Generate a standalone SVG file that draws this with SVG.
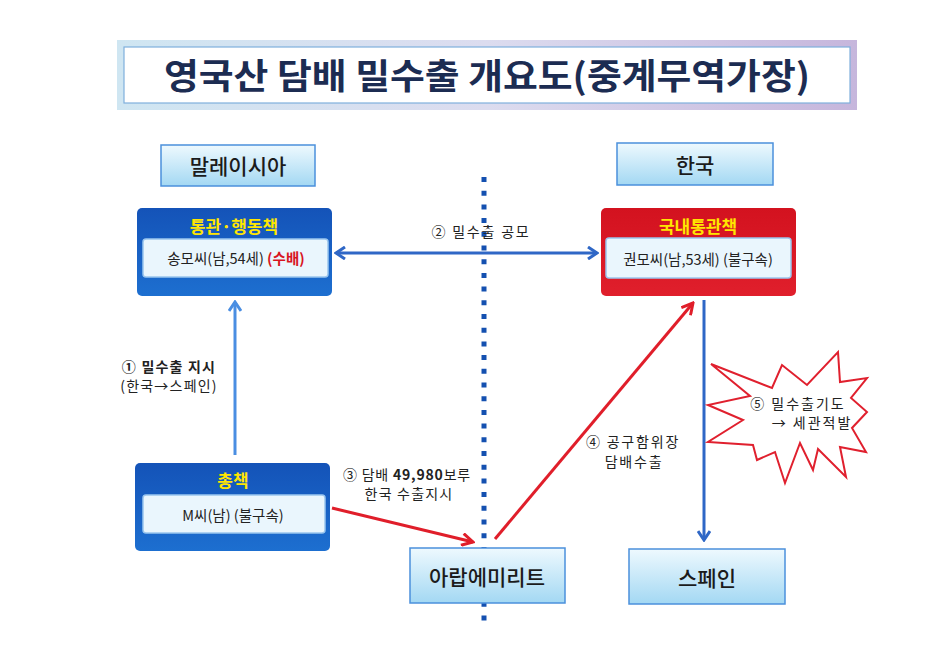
<svg xmlns="http://www.w3.org/2000/svg" width="943" height="658" viewBox="0 0 943 658">
<defs>
<linearGradient id="banner" x1="0" y1="0" x2="1" y2="0">
<stop offset="0" stop-color="#cfe6f2"/><stop offset="0.5" stop-color="#dcdcef"/><stop offset="1" stop-color="#c6b6dc"/>
</linearGradient>
<linearGradient id="sky" x1="0" y1="0" x2="0" y2="1">
<stop offset="0" stop-color="#eef9fe"/><stop offset="1" stop-color="#a3d8f3"/>
</linearGradient>
<linearGradient id="blueBox" x1="0" y1="0" x2="0" y2="1">
<stop offset="0" stop-color="#1453b8"/><stop offset="1" stop-color="#1d6fd0"/>
</linearGradient>
<linearGradient id="redBox" x1="0" y1="0" x2="0" y2="1">
<stop offset="0" stop-color="#d3121f"/><stop offset="1" stop-color="#e01f2c"/>
</linearGradient>
<marker id="hb" viewBox="0 0 12 14" refX="10" refY="7" markerWidth="12" markerHeight="14" markerUnits="userSpaceOnUse" orient="auto-start-reverse">
<path d="M1,1 L10,7 L1,13" fill="none" stroke="#2f67c6" stroke-width="3"/>
</marker>
<marker id="hb2" viewBox="0 0 12 14" refX="10" refY="7" markerWidth="12" markerHeight="14" markerUnits="userSpaceOnUse" orient="auto">
<path d="M1,1 L10,7 L1,13" fill="none" stroke="#4a8ee2" stroke-width="3"/>
</marker>
<marker id="hr" viewBox="0 0 14 14" refX="12" refY="7" markerWidth="14" markerHeight="14" markerUnits="userSpaceOnUse" orient="auto">
<path d="M1,1 L12,7 L1,13" fill="none" stroke="#e01e2a" stroke-width="3"/>
</marker>
</defs>
<style>
text{font-family:"Noto Sans CJK KR","Noto Sans",sans-serif;text-anchor:middle}
.country{font-size:21px;fill:#1b1b1b;font-weight:500}
.sky{fill:url(#sky);stroke:#4b90dc;stroke-width:1.5}
.inner{fill:#eaf6fd;stroke:#9bc6ee;stroke-width:1.5}
.ttl{font-size:17px;font-weight:bold;fill:#ffe600}
.person{font-size:14.5px;fill:#222}
.lbl{font-size:14px;fill:#222}
</style>

<g id="title">
<rect x="117" y="40" width="740" height="70" fill="url(#banner)"/>
<rect x="124" y="47" width="726" height="56" fill="#ffffff" stroke="#7fb0dc" stroke-width="1.2"/>
<text x="487" y="89" font-size="35" font-weight="bold" fill="#1c2c52" textLength="646" lengthAdjust="spacingAndGlyphs">영국산 담배 밀수출 개요도(중계무역가장)</text>
</g>

<g id="divider">
<line x1="484" y1="177" x2="484" y2="624" stroke="#1450b0" stroke-width="5" stroke-dasharray="5 8.7"/>
</g>

<g id="malaysia">
<rect class="sky" x="161" y="145" width="154" height="41"/>
<text class="country" x="238" y="174">말레이시아</text>
</g>
<g id="korea">
<rect class="sky" x="617" y="143" width="156" height="42"/>
<text class="country" x="695" y="173">한국</text>
</g>

<g id="customs-agent">
<rect x="137" y="208" width="195" height="88" rx="5" fill="url(#blueBox)"/>
<text class="ttl" x="234" y="233">통관·행동책</text>
<rect class="inner" x="143" y="239" width="185" height="38" rx="3"/>
<text class="person" x="236" y="264">송모씨(남,54세) <tspan fill="#d8141f" font-weight="bold">(수배)</tspan></text>
</g>

<g id="domestic-agent">
<rect x="601" y="208" width="195" height="88" rx="5" fill="url(#redBox)"/>
<text class="ttl" x="698" y="233">국내통관책</text>
<rect class="inner" x="606" y="238" width="185" height="40" rx="3"/>
<text class="person" x="698" y="265">권모씨(남,53세) (불구속)</text>
</g>

<g id="boss">
<rect x="135" y="463" width="195" height="88" rx="5" fill="url(#blueBox)"/>
<text class="ttl" x="233" y="487">총책</text>
<rect class="inner" x="143" y="495" width="182" height="38" rx="3"/>
<text class="person" x="233" y="521">M씨(남) (불구속)</text>
</g>

<g id="uae">
<rect class="sky" x="410" y="548" width="155" height="55"/>
<text class="country" x="487" y="585" font-size="22">아랍에미리트</text>
</g>
<g id="spain">
<rect class="sky" x="629" y="549" width="156" height="55"/>
<text class="country" x="707" y="586" font-size="22">스페인</text>
</g>

<g id="connectors">
<line x1="336" y1="253" x2="597" y2="253" stroke="#2f67c6" stroke-width="3" marker-start="url(#hb)" marker-end="url(#hb)"/>
<line x1="235" y1="455" x2="235" y2="302" stroke="#4a8ee2" stroke-width="3" marker-end="url(#hb2)"/>
<line x1="704" y1="300" x2="704" y2="540" stroke="#2f67c6" stroke-width="3" marker-end="url(#hb)"/>
<line x1="332" y1="508" x2="473" y2="542" stroke="#e01e2a" stroke-width="3" marker-end="url(#hr)"/>
<line x1="495" y1="539" x2="693" y2="303" stroke="#e01e2a" stroke-width="3" marker-end="url(#hr)"/>
</g>

<g id="labels">
<text class="lbl" x="481" y="237" letter-spacing="1.8">② 밀수출 공모</text>
<text class="lbl" x="169" y="372" font-weight="bold" letter-spacing="1.2">① 밀수출 지시</text>
<text class="lbl" x="169" y="391" fill="#444" letter-spacing="1.2">(한국→스페인)</text>
<text class="lbl" x="407" y="480" letter-spacing="0.8">③ 담배 <tspan font-weight="bold">49,980</tspan>보루</text>
<text class="lbl" x="409" y="499" letter-spacing="1.2">한국 수출지시</text>
<text class="lbl" x="633" y="447" letter-spacing="1.8">④ 공구함위장</text>
<text class="lbl" x="634" y="467" letter-spacing="1.8">담배수출</text>
</g>

<g id="seizure">
<polygon points="711,364 772,388 782,365 807,385 838,352 840,382 867,378 851,398 867,412 852,428 866,452 840,447 846,477 818,449 813,470 800,443 785,483 775,452 757,460 753,445 708,442 743,420 708,405 750,396" fill="#ffffff" stroke="#e0202e" stroke-width="2" stroke-linejoin="miter"/>
<text class="lbl" x="798" y="409" letter-spacing="2">⑤ 밀수출기도</text>
<text class="lbl" x="812" y="428" letter-spacing="2">→ 세관적발</text>
</g>
</svg>
